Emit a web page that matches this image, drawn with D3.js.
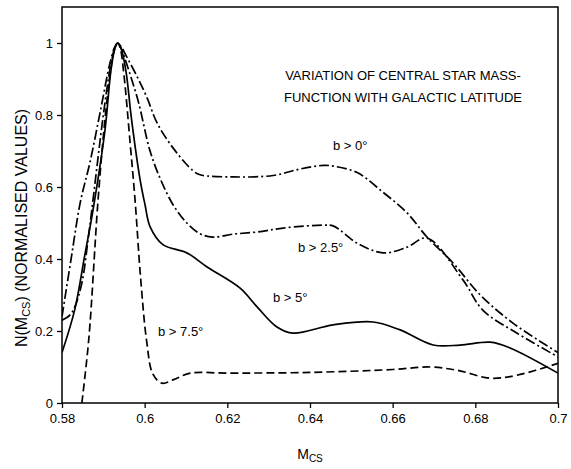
<!DOCTYPE html>
<html>
<head>
<meta charset="utf-8">
<script src="https://cdn.jsdelivr.net/npm/d3@7"></script>
<style>
  body { margin: 0; background: #fff; }
  text { font-family: "Liberation Sans", Arial, sans-serif; fill: #000; }
</style>
</head>
<body>
<div id="chart"></div>
<script>
/* Central star mass function vs galactic latitude */

// b > 0 deg (dash-dot, upper)
const massB0 = [0.58, 0.5822, 0.5844, 0.5868, 0.5892, 0.5916, 0.5928, 0.5935, 0.5943, 0.5955, 0.5982, 0.6005, 0.603, 0.6069, 0.6117, 0.6134, 0.6214, 0.6311, 0.6376, 0.6432, 0.6456, 0.6514, 0.6577, 0.6635, 0.6683, 0.6746, 0.6812, 0.6891, 0.7];
const valB0  = [0.24, 0.40, 0.556, 0.67, 0.806, 0.944, 0.99, 1.0, 0.99, 0.965, 0.906, 0.85, 0.778, 0.708, 0.645, 0.634, 0.628, 0.632, 0.65, 0.66, 0.658, 0.64, 0.585, 0.528, 0.461, 0.389, 0.30, 0.222, 0.14];

// b > 2.5 deg (dash-dot, lower)
const massB25 = [0.58, 0.5819, 0.5831, 0.5848, 0.5863, 0.5875, 0.59, 0.5918, 0.5928, 0.5935, 0.5943, 0.5957, 0.5984, 0.6013, 0.6037, 0.6069, 0.6102, 0.6134, 0.6165, 0.6214, 0.6272, 0.6335, 0.6432, 0.6456, 0.6514, 0.6577, 0.6635, 0.6683, 0.677, 0.6818, 0.6901, 0.7];
const valB25  = [0.23, 0.244, 0.267, 0.333, 0.453, 0.564, 0.80, 0.94, 0.985, 1.0, 0.985, 0.94, 0.84, 0.70, 0.625, 0.55, 0.50, 0.47, 0.461, 0.469, 0.475, 0.486, 0.494, 0.492, 0.444, 0.417, 0.433, 0.458, 0.342, 0.258, 0.194, 0.128];

// b > 5 deg (solid)
const massB5 = [0.58, 0.5831, 0.5855, 0.5875, 0.5904, 0.5918, 0.5928, 0.5935, 0.5943, 0.5955, 0.5968, 0.5989, 0.6001, 0.6013, 0.6044, 0.6102, 0.6151, 0.6231, 0.6272, 0.632, 0.6359, 0.6456, 0.6553, 0.6618, 0.6698, 0.6763, 0.6836, 0.6884, 0.7];
const valB5  = [0.14, 0.26, 0.41, 0.536, 0.758, 0.92, 0.985, 1.0, 0.985, 0.92, 0.79, 0.62, 0.55, 0.49, 0.44, 0.417, 0.378, 0.319, 0.267, 0.211, 0.194, 0.217, 0.225, 0.203, 0.161, 0.161, 0.169, 0.153, 0.083];

// b > 7.5 deg (dashed)
const massB75 = [0.5848, 0.5865, 0.5887, 0.5905, 0.5921, 0.5929, 0.5935, 0.5941, 0.595, 0.5965, 0.5977, 0.599, 0.6005, 0.602, 0.6042, 0.607, 0.611, 0.62, 0.64, 0.66, 0.669, 0.676, 0.6835, 0.69, 0.7];
const valB75  = [0, 0.18, 0.56, 0.80, 0.95, 0.99, 1.0, 0.985, 0.91, 0.72, 0.56, 0.35, 0.17, 0.08, 0.055, 0.065, 0.083, 0.083, 0.085, 0.093, 0.10, 0.09, 0.069, 0.077, 0.11];

const xTicks = [0.58, 0.6, 0.62, 0.64, 0.66, 0.68, 0.7];
const yTicks = [0, 0.2, 0.4, 0.6, 0.8, 1];
const seriesLabels = ["b > 0°", "b > 2.5°", "b > 5°", "b > 7.5°"];
const titleLines = ["VARIATION OF CENTRAL STAR MASS-", "FUNCTION WITH GALACTIC LATITUDE"];

const width = 571,
      height = 469,
      margin = ({ top: 7, right: 13, bottom: 66, left: 62 });

let svg = d3.select("#chart")
    .append("svg")
    .attr("width", width)
    .attr("height", height);

let x = d3.scaleLinear()
    .domain([0.58, 0.7])
    .range([margin.left, width - margin.right]);

let y = d3.scaleLinear()
    .domain([0, 1.1])
    .range([height - margin.bottom, margin.top]);

// axes
let xAxis = svg.append("g")
    .attr("transform", `translate(0,${height - margin.bottom})`)
    .call(d3.axisBottom(x).tickValues(xTicks).tickSize(5).tickPadding(6)
        .tickFormat(d => d3.format("")(+d.toFixed(2))));

let yAxis = svg.append("g")
    .attr("transform", `translate(${margin.left},0)`)
    .call(d3.axisLeft(y).tickValues(yTicks).tickSize(5).tickPadding(4)
        .tickFormat(d => d3.format("")(+d.toFixed(1))));

[xAxis, yAxis].forEach(g => {
    g.select(".domain").remove();
    g.selectAll("line").attr("stroke", "#000").attr("stroke-width", 1.3);
    g.selectAll("text").style("font-size", "13px").style("font-family", "Liberation Sans, Arial, sans-serif");
});

// frame
svg.append("rect")
    .attr("x", margin.left)
    .attr("y", margin.top)
    .attr("width", width - margin.left - margin.right)
    .attr("height", height - margin.top - margin.bottom)
    .attr("fill", "none")
    .attr("stroke", "#000")
    .attr("stroke-width", 1.5);

// curves
let line = d3.line()
    .x(d => x(d[0]))
    .y(d => y(d[1]))
    .curve(d3.curveCatmullRom.alpha(0.5));

let series = [
    { xs: massB0, ys: valB0, dash: "10,3,2,3" },
    { xs: massB25, ys: valB25, dash: "10,3,2,3" },
    { xs: massB5, ys: valB5, dash: null },
    { xs: massB75, ys: valB75, dash: "8,4" }
];

svg.append("clipPath").attr("id", "clip")
    .append("rect")
    .attr("x", margin.left).attr("y", margin.top)
    .attr("width", width - margin.left - margin.right)
    .attr("height", height - margin.top - margin.bottom);

svg.append("g")
    .attr("clip-path", "url(#clip)")
    .selectAll("path")
    .data(series)
    .join("path")
    .attr("d", s => line(d3.zip(s.xs, s.ys)))
    .attr("fill", "none")
    .attr("stroke", "#000")
    .attr("stroke-width", 1.7)
    .attr("stroke-dasharray", s => s.dash);

// series labels
let labelPos = [[333, 150], [298, 252], [273, 302], [158, 336]];
svg.selectAll(".lab")
    .data(seriesLabels)
    .join("text")
    .attr("class", "lab")
    .attr("x", (d, i) => labelPos[i][0])
    .attr("y", (d, i) => labelPos[i][1])
    .style("font-size", "13px")
    .text(d => d);

// title
svg.selectAll(".title")
    .data(titleLines)
    .join("text")
    .attr("class", "title")
    .attr("x", 403)
    .attr("y", (d, i) => 80 + i * 22)
    .attr("text-anchor", "middle")
    .style("font-size", "13px")
    .text(d => d);

// x label
let xl = svg.append("text")
    .attr("x", x(0.64))
    .attr("y", 459)
    .attr("text-anchor", "middle")
    .style("font-size", "14px");
xl.append("tspan").text("M");
xl.append("tspan").attr("dy", 3).style("font-size", "10px").text("CS");

// y label
let yl = svg.append("text")
    .attr("transform", `translate(27,228) rotate(-90)`)
    .attr("text-anchor", "middle")
    .style("font-size", "16px");
yl.append("tspan").text("N(M");
yl.append("tspan").attr("dy", 3).style("font-size", "11px").text("CS");
yl.append("tspan").attr("dy", -3).text(")  (NORMALISED VALUES)");
</script>
</body>
</html>
